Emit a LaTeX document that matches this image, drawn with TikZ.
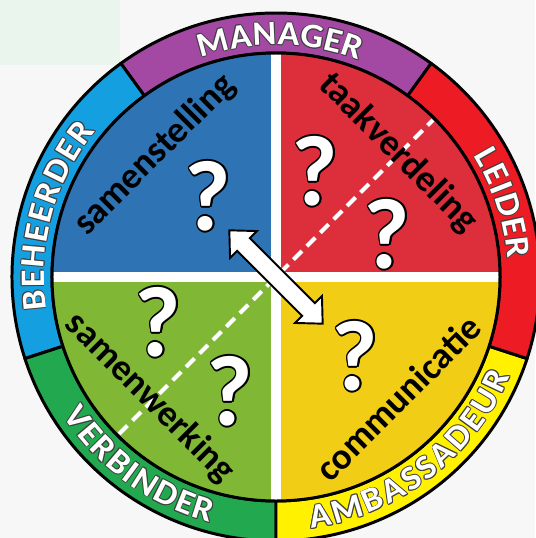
\documentclass[tikz,border=0pt]{standalone}
\usepackage{fontspec}
\setmainfont{Carlito}
\newfontfamily\ringfamily[FakeStretch=1.05]{Carlito}
\usepackage[copies]{contour}
\usetikzlibrary{decorations.text}
\contourlength{0.9pt}
\contournumber{12}

\definecolor{bgfill}{HTML}{F7F7F7}
\definecolor{bggreen}{HTML}{EAF5ED}
\definecolor{ringpurple}{HTML}{A349A4}
\definecolor{ringred}{HTML}{ED1C24}
\definecolor{ringblue}{HTML}{14A0E0}
\definecolor{ringgreen}{HTML}{22A84E}
\definecolor{ringyellow}{HTML}{FFF100}
\definecolor{quadblue}{HTML}{2E74B5}
\definecolor{quadred}{HTML}{DC2F3B}
\definecolor{quadgreen}{HTML}{80B735}
\definecolor{quadyellow}{HTML}{F2CD16}

\newcommand{\ringfont}{\ringfamily\bfseries\fontsize{19.5}{22}\selectfont}
\newcommand{\quest}{\contour{black}{?}}
% white label along the ring with a dark rim: text, start angle, end angle, baseline radius
\newcommand{\ringlabel}[4]{%
  \foreach \dx/\dy in {0.9/0, -0.9/0, 0/0.9, 0/-0.9, 0.65/0.65, -0.65/0.65, 0.65/-0.65, -0.65/-0.65}
    \path[ringtext={#1}{black!75}, shift={(\dx,\dy)}] (#2:#4) arc[start angle=#2, end angle=#3, radius=#4];
  \path[ringtext={#1}{white}] (#2:#4) arc[start angle=#2, end angle=#3, radius=#4];
}

\tikzset{
  ringpart/.style={draw=black, line width=1.7pt, line join=round},
  quadlabel/.style={font=\bfseries\fontsize{21}{24}\selectfont, text=black, inner sep=0pt},
  questmark/.style={font=\bfseries\fontsize{57}{60}\selectfont, text=white, inner sep=0pt},
  ringtext/.style 2 args={decorate, decoration={text along path, text={|\ringfont|#1},
    text color=#2, text align=fit to path}},
}

\begin{document}
\begin{tikzpicture}[x=0.02cm, y=0.02cm]
  \useasboundingbox (-276,-261) rectangle (259,277);
  % background
  \fill[bgfill] (-276,-261) rectangle (259,277);
  \fill[bggreen] (-276,212) rectangle (-156,277);
  % outer ring
  \foreach \a/\col in {54/ringpurple, 126/ringblue, 198/ringgreen, 270/ringyellow, 342/ringred}
    \filldraw[ringpart, fill=\col] (\a:264) arc[start angle=\a, delta angle=72, radius=264]
      -- (\a+72:224) arc[start angle=\a+72, delta angle=-72, radius=224] -- cycle;
  % quadrants
  \foreach \a/\col in {0/quadred, 90/quadblue, 180/quadgreen, 270/quadyellow}
    \fill[\col] (0,0) -- (\a:224) arc[start angle=\a, delta angle=90, radius=224] -- cycle;
  \coordinate (dashA) at (225:222);
  \coordinate (dashB) at (45:222);
  \draw[white, line width=2.3pt, dash pattern=on 6.8pt off 4pt] (dashA) -- (dashB);
  \coordinate (crossN) at (90:224);
  \coordinate (crossS) at (270:224);
  \coordinate (crossW) at (180:224);
  \coordinate (crossE) at (0:224);
  \draw[white, line width=5.7pt] (crossN) -- (crossS) (crossW) -- (crossE);
  \draw[line width=1.7pt] (0,0) circle[radius=224];
  % question marks
  \node[questmark] (q1) at (-68,80) {\quest};
  \node[questmark] (q2) at (39,105) {\quest};
  \node[questmark] (q3) at (111,42) {\quest};
  \node[questmark] (q4) at (-118,-46) {\quest};
  \node[questmark] (q5) at (-46,-115) {\quest};
  \node[questmark] (q6) at (79,-80) {\quest};
  % quadrant labels
  \node[quadlabel, rotate=45] (samenstelling) at (-121,122) {samenstelling};
  \node[quadlabel, rotate=-45] (taakverdeling) at (122,124) {taakverdeling};
  \node[quadlabel, rotate=-45] (samenwerking) at (-126,-121) {samenwerking};
  \node[quadlabel, rotate=45] (communicatie) at (122,-121) {communicatie};
  % ring labels
  \ringlabel{MANAGER}{109}{69}{232}
  \ringlabel{BEHEERDER}{188}{141}{232}
  \ringlabel{LEIDER}{31.5}{4.5}{232}
  \ringlabel{VERBINDER}{213}{255}{254}
  \ringlabel{AMBASSADEUR}{278}{337}{254}
  % arrow
  \filldraw[fill=white, draw=black, line width=1.1pt, line join=miter, rotate=-45]
    (66,0) -- (46,19) -- (46,9) -- (-46,9) -- (-46,19) -- (-66,0)
    -- (-46,-19) -- (-46,-9) -- (46,-9) -- (46,-19) -- cycle;
\end{tikzpicture}
\end{document}
